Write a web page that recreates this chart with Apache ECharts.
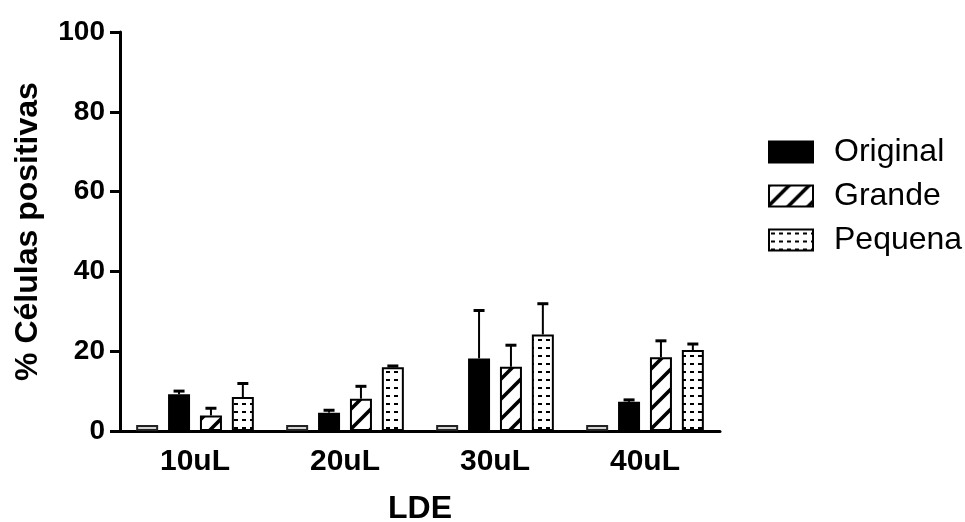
<!DOCTYPE html>
<html>
<head>
<meta charset="utf-8">
<title>LDE – % Células positivas</title>
<script src="https://cdn.jsdelivr.net/npm/echarts@6/dist/echarts.min.js"></script>
<style>
  html, body { margin: 0; padding: 0; background: #fff; }
  #chart { width: 965px; height: 522px; }
</style>
</head>
<body>
<div id="chart"></div>
<script>
// Categories and measured values (% positive cells), mean and upper error
const categories = ['10uL', '20uL', '30uL', '40uL'];
const controle = [1.5, 1.5, 1.5, 1.5];
const original = [9.2, 4.6, 18.2, 7.3];
const originalErr = [0.8, 0.6, 12.0, 0.5];
const grande = [3.9, 8.1, 16.1, 18.5];
const grandeErr = [1.8, 3.1, 5.4, 4.1];
const pequena = [8.5, 16.0, 24.2, 20.3];
const pequenaErr = [3.4, 0.3, 7.7, 1.5];
const yTicks = [0, 20, 40, 60, 80, 100];

const FONT = '"Liberation Sans", Arial, Helvetica, sans-serif';
const BAR_W = 22;
const GAP_RATIO = 0.45;
const PITCH = BAR_W * (1 + GAP_RATIO);

// Fill patterns: diagonal hatch and small dashes
function hatchTile() {
  const c = document.createElement('canvas');
  c.width = 20; c.height = 20;
  const g = c.getContext('2d');
  g.fillStyle = '#fff';
  g.fillRect(0, 0, 20, 20);
  g.strokeStyle = '#000';
  g.lineWidth = 3.6;
  g.beginPath();
  g.moveTo(-2, 22); g.lineTo(22, -2);
  g.moveTo(-12, 12); g.lineTo(12, -12);
  g.moveTo(8, 32); g.lineTo(32, 8);
  g.stroke();
  return c;
}
function dashTile() {
  const c = document.createElement('canvas');
  c.width = 8; c.height = 8;
  const g = c.getContext('2d');
  g.fillStyle = '#fff';
  g.fillRect(0, 0, 8, 8);
  g.fillStyle = '#000';
  g.fillRect(2, 3, 4, 2);
  return c;
}
const hatchFill = { image: hatchTile(), repeat: 'repeat' };
const dashFill = { image: dashTile(), repeat: 'repeat' };

// Error bar records: [category index, series slot, mean, error]
const errData = [];
[[original, originalErr, 1], [grande, grandeErr, 2], [pequena, pequenaErr, 3]].forEach(([vals, errs, slot]) => {
  vals.forEach((v, i) => errData.push([i, slot, v, errs[i]]));
});

function renderError(params, api) {
  const cat = api.value(0);
  const slot = api.value(1);
  const v = api.value(2);
  const e = api.value(3);
  const base = api.coord([cat, v]);
  const top = api.coord([cat, v + e]);
  const x = base[0] + (slot - 1.5) * PITCH;
  return {
    type: 'group',
    children: [
      { type: 'line', shape: { x1: x, y1: base[1], x2: x, y2: top[1] }, style: { stroke: '#000', lineWidth: 2 } },
      { type: 'line', shape: { x1: x - 5.5, y1: top[1], x2: x + 5.5, y2: top[1] }, style: { stroke: '#000', lineWidth: 3 } }
    ]
  };
}

const barBase = { type: 'bar', barWidth: BAR_W, barGap: (GAP_RATIO * 100) + '%', z: 2 };

const chart = echarts.init(document.getElementById('chart'), null, { renderer: 'canvas' });
chart.setOption({
  animation: false,
  backgroundColor: '#fff',
  grid: { left: 120, right: 245, top: 32, bottom: 91, containLabel: false, outerBoundsMode: 'none' },
  legend: {
    data: ['Original', 'Grande', 'Pequena'],
    orient: 'vertical',
    left: 763,
    top: 131,
    icon: 'rect',
    itemWidth: 44,
    itemHeight: 21,
    itemGap: 12,
    textStyle: { fontFamily: FONT, fontSize: 32, color: '#000', padding: [0, 0, 0, 16] }
  },
  xAxis: {
    type: 'category',
    data: categories,
    name: 'LDE',
    nameLocation: 'middle',
    nameGap: 62,
    nameTextStyle: { fontFamily: FONT, fontSize: 32, fontWeight: 'bold', color: '#000' },
    axisLine: { lineStyle: { color: '#000', width: 3 } },
    axisTick: { alignWithLabel: true, length: 9, lineStyle: { color: '#000', width: 3 } },
    axisLabel: { fontFamily: FONT, fontSize: 30, fontWeight: 'bold', color: '#000', margin: 16 }
  },
  yAxis: {
    type: 'value',
    min: 0,
    max: 100,
    interval: 20,
    name: '% Células positivas',
    nameLocation: 'middle',
    nameRotate: 90,
    nameGap: 76,
    nameTextStyle: { fontFamily: FONT, fontSize: 32, fontWeight: 'bold', color: '#000' },
    axisLine: { show: true, lineStyle: { color: '#000', width: 3 } },
    axisTick: { show: true, length: 10, lineStyle: { color: '#000', width: 3 } },
    splitLine: { show: false },
    axisLabel: {
      fontFamily: FONT, fontSize: 28, fontWeight: 'bold', color: '#000', margin: 15,
      formatter: v => (yTicks.includes(v) ? String(v) : '')
    }
  },
  series: [
    Object.assign({}, barBase, {
      name: 'Controle', data: controle,
      itemStyle: { color: '#d4d4d4', borderColor: '#222', borderWidth: 2 }
    }),
    Object.assign({}, barBase, {
      name: 'Original', data: original,
      itemStyle: { color: '#000', borderColor: '#000', borderWidth: 2 }
    }),
    Object.assign({}, barBase, {
      name: 'Grande', data: grande,
      itemStyle: { color: hatchFill, borderColor: '#000', borderWidth: 2 }
    }),
    Object.assign({}, barBase, {
      name: 'Pequena', data: pequena,
      itemStyle: { color: dashFill, borderColor: '#000', borderWidth: 2 }
    }),
    {
      type: 'custom',
      name: 'erro',
      data: errData,
      renderItem: renderError,
      encode: { x: 0, y: 2 },
      z: 3,
      silent: true
    }
  ]
});
</script>
</body>
</html>
